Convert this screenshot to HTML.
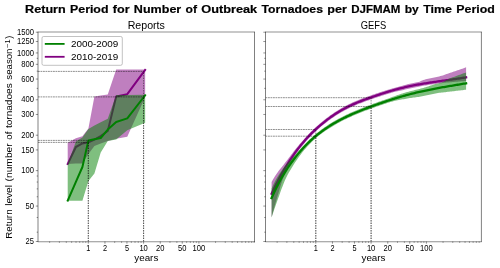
<!DOCTYPE html>
<html><head><meta charset="utf-8"><title>Return Period</title>
<style>html,body{margin:0;padding:0;background:#fff;}body{width:500px;height:268px;overflow:hidden;font-family:"Liberation Sans",sans-serif;}</style></head>
<body>
<svg width="500" height="268" viewBox="0 0 500 268" style="display:block;will-change:transform;font-family:'Liberation Sans',sans-serif">
<rect width="500" height="268" fill="#fff"/>
<defs><clipPath id="c1"><rect x="38.00" y="32.00" width="216.50" height="209.50"/></clipPath><clipPath id="c2"><rect x="265.50" y="32.00" width="215.90" height="209.50"/></clipPath></defs>
<g clip-path="url(#c1)">
<polygon points="67.70,142.80 75.89,138.30 82.41,136.20 88.42,128.50 94.41,96.60 100.72,95.50 107.77,94.50 116.18,69.40 127.27,69.40 145.15,69.40 145.15,97.00 127.27,136.70 116.18,138.70 107.77,141.00 100.72,143.50 94.41,146.00 88.42,154.00 82.41,163.40 75.89,163.40 67.70,164.00" fill="#800080" fill-opacity="0.5"/>
<polyline points="67.70,164.00 75.89,147.00 82.41,143.40 88.42,142.30 94.41,139.60 100.72,136.00 107.77,131.00 116.18,96.50 127.27,94.20 145.15,70.00" fill="none" stroke="#800080" stroke-width="2.00" stroke-linecap="square" stroke-linejoin="round"/>
<polygon points="67.70,164.00 75.89,141.50 82.41,137.50 88.42,129.00 94.41,125.60 100.72,122.30 107.77,118.70 116.18,95.00 127.27,95.00 145.15,94.80 145.15,122.80 127.27,130.30 116.18,139.50 107.77,141.00 100.72,152.50 94.41,173.60 88.42,181.00 82.41,200.80 75.89,200.80 67.70,200.80" fill="#008000" fill-opacity="0.5"/>
<polyline points="67.70,200.60 75.89,181.90 82.41,167.00 88.42,140.40 94.41,139.20 100.72,138.00 107.77,129.60 116.18,122.00 127.27,118.40 145.15,95.30" fill="none" stroke="#008000" stroke-width="2.00" stroke-linecap="square" stroke-linejoin="round"/>
<path d="M38.00 71.40H143.60" stroke="#000" stroke-width="0.44" stroke-dasharray="1.85 0.65" fill="none"/><path d="M143.60 241.50V71.40" stroke="#000" stroke-width="0.46" stroke-dasharray="1.4 1.1" fill="none"/>
<path d="M38.00 96.90H143.60" stroke="#000" stroke-width="0.44" stroke-dasharray="1.85 0.65" fill="none"/><path d="M143.60 241.50V96.90" stroke="#000" stroke-width="0.46" stroke-dasharray="1.4 1.1" fill="none"/>
<path d="M38.00 140.40H88.30" stroke="#000" stroke-width="0.44" stroke-dasharray="1.85 0.65" fill="none"/><path d="M88.30 241.50V140.40" stroke="#000" stroke-width="0.46" stroke-dasharray="1.4 1.1" fill="none"/>
<path d="M38.00 142.40H88.30" stroke="#000" stroke-width="0.44" stroke-dasharray="1.85 0.65" fill="none"/><path d="M88.30 241.50V142.40" stroke="#000" stroke-width="0.46" stroke-dasharray="1.4 1.1" fill="none"/>
</g>
<g clip-path="url(#c2)">
<polygon points="271.60,182.04 272.82,179.80 274.05,177.71 275.27,175.73 276.49,173.93 277.72,172.24 278.94,170.59 280.16,169.01 281.39,167.48 282.61,165.96 283.83,164.41 285.06,162.84 286.28,161.27 287.50,159.68 288.73,158.04 289.95,156.41 291.17,154.80 292.40,153.20 293.62,151.62 294.84,150.06 296.07,148.52 297.29,147.02 298.51,145.55 299.74,144.11 300.96,142.69 302.18,141.29 303.41,139.91 304.63,138.54 305.85,137.18 307.07,135.85 308.30,134.55 309.52,133.29 310.74,132.05 311.97,130.83 313.19,129.65 314.41,128.48 315.64,127.35 316.86,126.23 318.08,125.14 319.31,124.07 320.53,123.02 321.75,121.99 322.98,120.99 324.20,120.00 325.42,119.03 326.65,118.09 327.87,117.16 329.09,116.25 330.32,115.37 331.54,114.50 332.76,113.65 333.99,112.83 335.21,112.02 336.43,111.23 337.66,110.46 338.88,109.70 340.10,108.97 341.33,108.26 342.55,107.56 343.77,106.88 345.00,106.22 346.22,105.58 347.44,104.95 348.67,104.35 349.89,103.76 351.11,103.18 352.34,102.62 353.56,102.07 354.78,101.54 356.01,101.02 357.23,100.51 358.45,100.01 359.68,99.52 360.90,99.04 362.12,98.58 363.35,98.11 364.57,97.66 365.79,97.21 367.02,96.77 368.24,96.33 369.46,95.90 370.68,95.46 371.91,95.04 373.13,94.61 374.35,94.19 375.58,93.77 376.80,93.35 378.02,92.94 379.25,92.53 380.47,92.12 381.69,91.72 382.92,91.32 384.14,90.93 385.36,90.54 386.59,90.16 387.81,89.78 389.03,89.41 390.26,89.04 391.48,88.68 392.70,88.33 393.93,87.98 395.15,87.64 396.37,87.30 397.60,86.97 398.82,86.64 400.04,86.32 401.27,86.00 402.49,85.69 403.71,85.37 404.94,85.03 406.16,84.70 407.38,84.37 408.61,84.05 409.83,83.76 411.05,83.49 412.28,83.23 413.50,82.98 414.72,82.74 415.95,82.49 417.17,82.25 418.39,82.00 419.62,81.64 420.84,81.12 422.06,80.56 423.29,80.06 424.51,79.64 425.73,79.24 426.96,78.94 428.18,78.69 429.40,78.46 430.63,78.24 431.85,78.02 433.07,77.80 434.29,77.57 435.52,77.32 436.74,77.05 437.96,76.75 439.19,76.43 440.41,76.10 441.63,75.75 442.86,75.39 444.08,74.99 445.30,74.56 446.53,74.12 447.75,73.68 448.97,73.26 450.20,72.85 451.42,72.43 452.64,72.02 453.87,71.60 455.09,71.18 456.31,70.76 457.54,70.34 458.76,69.92 459.98,69.50 461.21,69.08 462.43,68.65 463.65,68.23 464.88,67.80 466.10,67.37 466.10,80.97 464.88,81.06 463.65,81.16 462.43,81.25 461.21,81.35 459.98,81.45 458.76,81.54 457.54,81.64 456.31,81.74 455.09,81.84 453.87,81.95 452.64,82.05 451.42,82.16 450.20,82.27 448.97,82.38 447.75,82.50 446.53,82.62 445.30,82.74 444.08,82.87 442.86,83.00 441.63,83.13 440.41,83.27 439.19,83.42 437.96,83.57 436.74,83.73 435.52,83.89 434.29,84.06 433.07,84.23 431.85,84.41 430.63,84.60 429.40,84.79 428.18,84.98 426.96,85.18 425.73,85.39 424.51,85.60 423.29,85.81 422.06,86.03 420.84,86.25 419.62,86.48 418.39,86.70 417.17,86.94 415.95,87.18 414.72,87.43 413.50,87.68 412.28,87.94 411.05,88.21 409.83,88.48 408.61,88.76 407.38,89.04 406.16,89.32 404.94,89.61 403.71,89.90 402.49,90.20 401.27,90.48 400.04,90.73 398.82,90.96 397.60,91.19 396.37,91.44 395.15,91.74 393.93,92.08 392.70,92.43 391.48,92.78 390.26,93.14 389.03,93.51 387.81,93.88 386.59,94.26 385.36,94.64 384.14,95.03 382.92,95.42 381.69,95.82 380.47,96.22 379.25,96.63 378.02,97.04 376.80,97.45 375.58,97.87 374.35,98.29 373.13,98.71 371.91,99.14 370.68,99.56 369.46,100.00 368.24,100.43 367.02,100.87 365.79,101.31 364.57,101.76 363.35,102.21 362.12,102.68 360.90,103.14 359.68,103.62 358.45,104.11 357.23,104.61 356.01,105.12 354.78,105.64 353.56,106.17 352.34,106.72 351.11,107.28 349.89,107.86 348.67,108.45 347.44,109.05 346.22,109.68 345.00,110.32 343.77,110.98 342.55,111.66 341.33,112.36 340.10,113.07 338.88,113.80 337.66,114.56 336.43,115.33 335.21,116.12 333.99,116.93 332.76,117.75 331.54,118.60 330.32,119.47 329.09,120.35 327.87,121.26 326.65,122.19 325.42,123.13 324.20,124.10 322.98,125.09 321.75,126.09 320.53,127.12 319.31,128.17 318.08,129.25 316.86,130.35 315.64,131.47 314.41,132.63 313.19,133.81 311.97,135.02 310.74,136.26 309.52,137.54 308.30,138.84 307.07,140.18 305.85,141.55 304.63,142.96 303.41,144.40 302.18,145.88 300.96,147.40 299.74,148.95 298.51,150.55 297.29,152.18 296.07,153.86 294.84,155.58 293.62,157.39 292.40,159.30 291.17,161.31 289.95,163.43 288.73,165.65 287.50,167.97 286.28,170.38 285.06,173.03 283.83,176.13 282.61,179.53 281.39,183.13 280.16,187.16 278.94,191.39 277.72,195.54 276.49,199.67 275.27,203.86 274.05,208.19 272.82,212.66 271.60,217.24" fill="#800080" fill-opacity="0.5"/>
<polyline points="271.60,193.64 272.82,191.04 274.05,188.50 275.27,186.01 276.49,183.58 277.72,181.20 278.94,178.87 280.16,176.60 281.39,174.37 282.61,172.20 283.83,170.08 285.06,168.01 286.28,165.98 287.50,164.01 288.73,162.07 289.95,160.19 291.17,158.35 292.40,156.55 293.62,154.79 294.84,153.08 296.07,151.40 297.29,149.77 298.51,148.17 299.74,146.61 300.96,145.09 302.18,143.61 303.41,142.16 304.63,140.75 305.85,139.36 307.07,138.02 308.30,136.70 309.52,135.41 310.74,134.16 311.97,132.93 313.19,131.73 314.41,130.56 315.64,129.41 316.86,128.29 318.08,127.19 319.31,126.12 320.53,125.07 321.75,124.04 322.98,123.04 324.20,122.05 325.42,121.08 326.65,120.14 327.87,119.21 329.09,118.30 330.32,117.42 331.54,116.55 332.76,115.70 333.99,114.88 335.21,114.07 336.43,113.28 337.66,112.51 338.88,111.75 340.10,111.02 341.33,110.31 342.55,109.61 343.77,108.93 345.00,108.27 346.22,107.63 347.44,107.00 348.67,106.40 349.89,105.81 351.11,105.23 352.34,104.67 353.56,104.12 354.78,103.59 356.01,103.07 357.23,102.56 358.45,102.06 359.68,101.57 360.90,101.09 362.12,100.63 363.35,100.16 364.57,99.71 365.79,99.26 367.02,98.82 368.24,98.38 369.46,97.95 370.68,97.51 371.91,97.09 373.13,96.66 374.35,96.24 375.58,95.82 376.80,95.40 378.02,94.99 379.25,94.58 380.47,94.17 381.69,93.77 382.92,93.37 384.14,92.98 385.36,92.59 386.59,92.21 387.81,91.83 389.03,91.46 390.26,91.09 391.48,90.73 392.70,90.38 393.93,90.03 395.15,89.69 396.37,89.36 397.60,89.03 398.82,88.71 400.04,88.40 401.27,88.10 402.49,87.80 403.71,87.51 404.94,87.23 406.16,86.95 407.38,86.68 408.61,86.42 409.83,86.16 411.05,85.91 412.28,85.66 413.50,85.42 414.72,85.18 415.95,84.95 417.17,84.73 418.39,84.50 419.62,84.29 420.84,84.07 422.06,83.86 423.29,83.66 424.51,83.46 425.73,83.26 426.96,83.06 428.18,82.87 429.40,82.68 430.63,82.49 431.85,82.31 433.07,82.13 434.29,81.95 435.52,81.77 436.74,81.59 437.96,81.42 439.19,81.24 440.41,81.07 441.63,80.90 442.86,80.73 444.08,80.56 445.30,80.39 446.53,80.22 447.75,80.05 448.97,79.88 450.20,79.71 451.42,79.54 452.64,79.37 453.87,79.19 455.09,79.02 456.31,78.84 457.54,78.67 458.76,78.49 459.98,78.31 461.21,78.12 462.43,77.94 463.65,77.75 464.88,77.56 466.10,77.37" fill="none" stroke="#800080" stroke-width="2.30" stroke-linecap="square" stroke-linejoin="round"/>
<polygon points="271.60,188.55 272.82,185.83 274.05,183.24 275.27,180.78 276.49,178.57 277.72,176.54 278.94,174.56 280.16,172.68 281.39,170.88 282.61,169.17 283.83,167.54 285.06,165.97 286.28,164.49 287.50,163.07 288.73,161.70 289.95,160.42 291.17,159.15 292.40,157.81 293.62,156.47 294.84,155.13 296.07,153.78 297.29,152.40 298.51,151.03 299.74,149.69 300.96,148.37 302.18,147.07 303.41,145.78 304.63,144.50 305.85,143.23 307.07,141.99 308.30,140.78 309.52,139.60 310.74,138.45 311.97,137.32 313.19,136.23 314.41,135.16 315.64,134.13 316.86,133.12 318.08,132.13 319.31,131.17 320.53,130.24 321.75,129.33 322.98,128.44 324.20,127.58 325.42,126.73 326.65,125.90 327.87,125.10 329.09,124.31 330.32,123.53 331.54,122.78 332.76,122.04 333.99,121.31 335.21,120.60 336.43,119.90 337.66,119.22 338.88,118.55 340.10,117.90 341.33,117.26 342.55,116.63 343.77,116.01 345.00,115.40 346.22,114.81 347.44,114.23 348.67,113.65 349.89,113.09 351.11,112.54 352.34,111.99 353.56,111.46 354.78,110.93 356.01,110.41 357.23,109.90 358.45,109.40 359.68,108.91 360.90,108.42 362.12,107.93 363.35,107.46 364.57,106.98 365.79,106.52 367.02,106.05 368.24,105.60 369.46,105.14 370.68,104.69 371.91,104.24 373.13,103.80 374.35,103.36 375.58,102.92 376.80,102.48 378.02,102.05 379.25,101.62 380.47,101.20 381.69,100.78 382.92,100.36 384.14,99.94 385.36,99.53 386.59,99.11 387.81,98.67 389.03,98.23 390.26,97.78 391.48,97.32 392.70,96.87 393.93,96.42 395.15,95.98 396.37,95.54 397.60,95.11 398.82,94.66 400.04,94.22 401.27,93.80 402.49,93.39 403.71,93.01 404.94,92.67 406.16,92.33 407.38,92.00 408.61,91.67 409.83,91.35 411.05,91.04 412.28,90.72 413.50,90.42 414.72,90.11 415.95,89.80 417.17,89.49 418.39,89.19 419.62,88.89 420.84,88.58 422.06,88.26 423.29,87.91 424.51,87.54 425.73,87.16 426.96,86.77 428.18,86.39 429.40,86.00 430.63,85.59 431.85,85.17 433.07,84.75 434.29,84.36 435.52,84.02 436.74,83.71 437.96,83.42 439.19,83.13 440.41,82.83 441.63,82.50 442.86,82.08 444.08,81.49 445.30,80.79 446.53,80.06 447.75,79.39 448.97,78.83 450.20,78.32 451.42,77.83 452.64,77.36 453.87,76.91 455.09,76.46 456.31,76.01 457.54,75.56 458.76,75.11 459.98,74.67 461.21,74.23 462.43,73.80 463.65,73.37 464.88,72.95 466.10,72.53 466.10,89.73 464.88,89.87 463.65,90.01 462.43,90.15 461.21,90.29 459.98,90.42 458.76,90.56 457.54,90.70 456.31,90.84 455.09,90.99 453.87,91.13 452.64,91.27 451.42,91.42 450.20,91.56 448.97,91.71 447.75,91.86 446.53,92.00 445.30,92.13 444.08,92.27 442.86,92.40 441.63,92.55 440.41,92.70 439.19,92.87 437.96,93.05 436.74,93.25 435.52,93.48 434.29,93.73 433.07,93.98 431.85,94.25 430.63,94.51 429.40,94.77 428.18,95.02 426.96,95.27 425.73,95.51 424.51,95.76 423.29,96.00 422.06,96.25 420.84,96.49 419.62,96.73 418.39,96.92 417.17,97.09 415.95,97.23 414.72,97.38 413.50,97.54 412.28,97.71 411.05,97.91 409.83,98.10 408.61,98.31 407.38,98.52 406.16,98.73 404.94,98.95 403.71,99.16 402.49,99.36 401.27,99.56 400.04,99.76 398.82,99.97 397.60,100.21 396.37,100.48 395.15,100.79 393.93,101.11 392.70,101.44 391.48,101.78 390.26,102.12 389.03,102.48 387.81,102.85 386.59,103.24 385.36,103.63 384.14,104.04 382.92,104.46 381.69,104.88 380.47,105.30 379.25,105.72 378.02,106.15 376.80,106.58 375.58,107.02 374.35,107.46 373.13,107.90 371.91,108.34 370.68,108.79 369.46,109.24 368.24,109.70 367.02,110.15 365.79,110.62 364.57,111.08 363.35,111.56 362.12,112.03 360.90,112.52 359.68,113.01 358.45,113.50 357.23,114.00 356.01,114.51 354.78,115.03 353.56,115.56 352.34,116.09 351.11,116.64 349.89,117.19 348.67,117.75 347.44,118.33 346.22,118.91 345.00,119.50 343.77,120.11 342.55,120.73 341.33,121.36 340.10,122.00 338.88,122.65 337.66,123.32 336.43,124.00 335.21,124.70 333.99,125.41 332.76,126.14 331.54,126.88 330.32,127.63 329.09,128.41 327.87,129.20 326.65,130.00 325.42,130.83 324.20,131.68 322.98,132.54 321.75,133.43 320.53,134.34 319.31,135.27 318.08,136.25 316.86,137.27 315.64,138.32 314.41,139.42 313.19,140.55 311.97,141.72 310.74,142.94 309.52,144.18 308.30,145.47 307.07,146.79 305.85,148.15 304.63,149.54 303.41,151.01 302.18,152.54 300.96,154.14 299.74,155.80 298.51,157.51 297.29,159.27 296.07,161.05 294.84,162.87 293.62,164.74 292.40,166.65 291.17,168.63 289.95,170.69 288.73,172.84 287.50,175.10 286.28,177.47 285.06,180.07 283.83,183.01 282.61,186.14 281.39,189.34 280.16,192.73 278.94,196.20 277.72,199.61 276.49,203.00 275.27,206.44 274.05,210.00 272.82,213.67 271.60,217.45" fill="#008000" fill-opacity="0.5"/>
<polyline points="271.60,198.05 272.82,195.30 274.05,192.63 275.27,190.04 276.49,187.54 277.72,185.12 278.94,182.77 280.16,180.50 281.39,178.30 282.61,176.17 283.83,174.10 285.06,172.09 286.28,170.14 287.50,168.25 288.73,166.42 289.95,164.64 291.17,162.90 292.40,161.21 293.62,159.57 294.84,157.96 296.07,156.40 297.29,154.87 298.51,153.39 299.74,151.94 300.96,150.53 302.18,149.15 303.41,147.81 304.63,146.50 305.85,145.23 307.07,143.99 308.30,142.78 309.52,141.61 310.74,140.46 311.97,139.35 313.19,138.26 314.41,137.20 315.64,136.17 316.86,135.16 318.08,134.18 319.31,133.22 320.53,132.29 321.75,131.38 322.98,130.49 324.20,129.63 325.42,128.78 326.65,127.95 327.87,127.15 329.09,126.36 330.32,125.58 331.54,124.83 332.76,124.09 333.99,123.36 335.21,122.65 336.43,121.95 337.66,121.27 338.88,120.60 340.10,119.95 341.33,119.31 342.55,118.68 343.77,118.06 345.00,117.45 346.22,116.86 347.44,116.28 348.67,115.70 349.89,115.14 351.11,114.59 352.34,114.04 353.56,113.51 354.78,112.98 356.01,112.46 357.23,111.95 358.45,111.45 359.68,110.96 360.90,110.47 362.12,109.98 363.35,109.51 364.57,109.03 365.79,108.57 367.02,108.10 368.24,107.65 369.46,107.19 370.68,106.74 371.91,106.29 373.13,105.85 374.35,105.41 375.58,104.97 376.80,104.53 378.02,104.10 379.25,103.67 380.47,103.25 381.69,102.83 382.92,102.41 384.14,101.99 385.36,101.58 386.59,101.18 387.81,100.77 389.03,100.37 390.26,99.98 391.48,99.59 392.70,99.20 393.93,98.82 395.15,98.44 396.37,98.06 397.60,97.69 398.82,97.33 400.04,96.97 401.27,96.61 402.49,96.26 403.71,95.91 404.94,95.57 406.16,95.23 407.38,94.90 408.61,94.57 409.83,94.25 411.05,93.94 412.28,93.62 413.50,93.32 414.72,93.02 415.95,92.72 417.17,92.43 418.39,92.15 419.62,91.87 420.84,91.59 422.06,91.32 423.29,91.05 424.51,90.79 425.73,90.53 426.96,90.27 428.18,90.02 429.40,89.77 430.63,89.53 431.85,89.29 433.07,89.05 434.29,88.81 435.52,88.58 436.74,88.35 437.96,88.12 439.19,87.90 440.41,87.68 441.63,87.46 442.86,87.24 444.08,87.02 445.30,86.81 446.53,86.60 447.75,86.39 448.97,86.18 450.20,85.97 451.42,85.77 452.64,85.56 453.87,85.36 455.09,85.15 456.31,84.95 457.54,84.75 458.76,84.54 459.98,84.34 461.21,84.14 462.43,83.94 463.65,83.73 464.88,83.53 466.10,83.33" fill="none" stroke="#008000" stroke-width="2.30" stroke-linecap="square" stroke-linejoin="round"/>
<path d="M265.50 97.70H371.10" stroke="#000" stroke-width="0.44" stroke-dasharray="1.85 0.65" fill="none"/><path d="M371.10 241.50V97.70" stroke="#000" stroke-width="0.46" stroke-dasharray="1.4 1.1" fill="none"/>
<path d="M265.50 106.50H371.10" stroke="#000" stroke-width="0.44" stroke-dasharray="1.85 0.65" fill="none"/><path d="M371.10 241.50V106.50" stroke="#000" stroke-width="0.46" stroke-dasharray="1.4 1.1" fill="none"/>
<path d="M265.50 129.50H315.80" stroke="#000" stroke-width="0.44" stroke-dasharray="1.85 0.65" fill="none"/><path d="M315.80 241.50V129.50" stroke="#000" stroke-width="0.46" stroke-dasharray="1.4 1.1" fill="none"/>
<path d="M265.50 136.20H315.80" stroke="#000" stroke-width="0.44" stroke-dasharray="1.85 0.65" fill="none"/><path d="M315.80 241.50V136.20" stroke="#000" stroke-width="0.46" stroke-dasharray="1.4 1.1" fill="none"/>
</g>
<path d="M38.00 31.80V241.90M254.50 31.80V241.90" stroke="#000" stroke-width="0.5" fill="none"/>
<path d="M37.75 32.00H254.75M37.75 241.75H254.75" stroke="#000" stroke-width="0.44" fill="none"/>
<path d="M38.00 241.50h-2.2M38.00 206.07h-2.2M38.00 170.64h-2.2M38.00 149.91h-2.2M38.00 135.21h-2.2M38.00 114.48h-2.2M38.00 99.78h-2.2M38.00 79.05h-2.2M38.00 64.34h-2.2M38.00 52.94h-2.2M38.00 41.53h-2.2M38.00 32.21h-2.2M38.00 232.18h-1.3M38.00 217.48h-1.3M38.00 196.75h-1.3M38.00 188.87h-1.3M38.00 182.04h-1.3M38.00 176.02h-1.3M38.00 88.37h-1.3M38.00 71.17h-1.3M38.00 58.32h-1.3M88.30 241.50v2.2M104.95 241.50v2.2M126.95 241.50v2.2M143.60 241.50v2.2M160.25 241.50v2.2M182.25 241.50v2.2M198.90 241.50v2.2M49.65 241.50v1.3M59.38 241.50v1.3M66.29 241.50v1.3M71.65 241.50v1.3M76.03 241.50v1.3M79.73 241.50v1.3M82.94 241.50v1.3M85.77 241.50v1.3M114.68 241.50v1.3M121.59 241.50v1.3M131.33 241.50v1.3M135.03 241.50v1.3M138.24 241.50v1.3M141.07 241.50v1.3M169.98 241.50v1.3M176.89 241.50v1.3M186.63 241.50v1.3M190.33 241.50v1.3M193.54 241.50v1.3M196.37 241.50v1.3M215.55 241.50v1.3M225.28 241.50v1.3M232.19 241.50v1.3M237.55 241.50v1.3M241.93 241.50v1.3M245.63 241.50v1.3M248.84 241.50v1.3M251.67 241.50v1.3M254.20 241.50v1.3" stroke="#000" stroke-width="0.42" fill="none"/>
<path d="M265.50 31.80V241.90M481.40 31.80V241.90" stroke="#000" stroke-width="0.5" fill="none"/>
<path d="M265.25 32.00H481.65M265.25 241.75H481.65" stroke="#000" stroke-width="0.44" fill="none"/>
<path d="M265.50 241.50h-2.2M265.50 206.07h-2.2M265.50 170.64h-2.2M265.50 149.91h-2.2M265.50 135.21h-2.2M265.50 114.48h-2.2M265.50 99.78h-2.2M265.50 79.05h-2.2M265.50 64.34h-2.2M265.50 52.94h-2.2M265.50 41.53h-2.2M265.50 32.21h-2.2M265.50 232.18h-1.3M265.50 217.48h-1.3M265.50 196.75h-1.3M265.50 188.87h-1.3M265.50 182.04h-1.3M265.50 176.02h-1.3M265.50 88.37h-1.3M265.50 71.17h-1.3M265.50 58.32h-1.3M315.80 241.50v2.2M332.45 241.50v2.2M354.45 241.50v2.2M371.10 241.50v2.2M387.75 241.50v2.2M409.75 241.50v2.2M426.40 241.50v2.2M277.15 241.50v1.3M286.88 241.50v1.3M293.79 241.50v1.3M299.15 241.50v1.3M303.53 241.50v1.3M307.23 241.50v1.3M310.44 241.50v1.3M313.27 241.50v1.3M342.18 241.50v1.3M349.09 241.50v1.3M358.83 241.50v1.3M362.53 241.50v1.3M365.74 241.50v1.3M368.57 241.50v1.3M397.48 241.50v1.3M404.39 241.50v1.3M414.13 241.50v1.3M417.83 241.50v1.3M421.04 241.50v1.3M423.87 241.50v1.3M443.05 241.50v1.3M452.78 241.50v1.3M459.69 241.50v1.3M465.05 241.50v1.3M469.43 241.50v1.3M473.13 241.50v1.3M476.34 241.50v1.3M479.17 241.50v1.3" stroke="#000" stroke-width="0.42" fill="none"/>
<g opacity="0.999">
<text y="13.1" font-size="11.2" font-weight="bold" fill="#000" stroke="#000" stroke-width="0.2"><tspan x="25.10" textLength="40.58" lengthAdjust="spacingAndGlyphs">Return</tspan> <tspan x="70.01" textLength="38.50" lengthAdjust="spacingAndGlyphs">Period</tspan> <tspan x="112.84" textLength="16.71" lengthAdjust="spacingAndGlyphs">for</tspan> <tspan x="133.88" textLength="47.38" lengthAdjust="spacingAndGlyphs">Number</tspan> <tspan x="185.58" textLength="11.42" lengthAdjust="spacingAndGlyphs">of</tspan> <tspan x="201.33" textLength="55.83" lengthAdjust="spacingAndGlyphs">Outbreak</tspan> <tspan x="261.49" textLength="61.46" lengthAdjust="spacingAndGlyphs">Tornadoes</tspan> <tspan x="327.28" textLength="19.62" lengthAdjust="spacingAndGlyphs">per</tspan> <tspan x="351.23" textLength="49.21" lengthAdjust="spacingAndGlyphs">DJFMAM</tspan> <tspan x="404.77" textLength="14.05" lengthAdjust="spacingAndGlyphs">by</tspan> <tspan x="423.16" textLength="28.81" lengthAdjust="spacingAndGlyphs">Time</tspan> <tspan x="456.30" textLength="38.50" lengthAdjust="spacingAndGlyphs">Period</tspan></text>
<text x="146.30" y="29.20" font-size="10.30" text-anchor="middle" textLength="37.20" lengthAdjust="spacingAndGlyphs" fill="#000" >Reports</text>
<text x="373.50" y="29.20" font-size="10.30" text-anchor="middle" textLength="25.50" lengthAdjust="spacingAndGlyphs" fill="#000" >GEFS</text>
<text x="146.30" y="260.60" font-size="9.30" text-anchor="middle" textLength="24.00" lengthAdjust="spacingAndGlyphs" fill="#000" >years</text>
<text x="373.50" y="260.60" font-size="9.30" text-anchor="middle" textLength="24.00" lengthAdjust="spacingAndGlyphs" fill="#000" >years</text>
<text x="88.30" y="251.00" font-size="8.20" text-anchor="middle" textLength="4.10" lengthAdjust="spacingAndGlyphs" fill="#000" >1</text>
<text x="104.95" y="251.00" font-size="8.20" text-anchor="middle" textLength="4.10" lengthAdjust="spacingAndGlyphs" fill="#000" >2</text>
<text x="126.95" y="251.00" font-size="8.20" text-anchor="middle" textLength="4.10" lengthAdjust="spacingAndGlyphs" fill="#000" >5</text>
<text x="143.60" y="251.00" font-size="8.20" text-anchor="middle" textLength="8.40" lengthAdjust="spacingAndGlyphs" fill="#000" >10</text>
<text x="160.25" y="251.00" font-size="8.20" text-anchor="middle" textLength="8.40" lengthAdjust="spacingAndGlyphs" fill="#000" >20</text>
<text x="182.25" y="251.00" font-size="8.20" text-anchor="middle" textLength="8.40" lengthAdjust="spacingAndGlyphs" fill="#000" >50</text>
<text x="198.90" y="251.00" font-size="8.20" text-anchor="middle" textLength="12.70" lengthAdjust="spacingAndGlyphs" fill="#000" >100</text>
<text x="315.80" y="251.00" font-size="8.20" text-anchor="middle" textLength="4.10" lengthAdjust="spacingAndGlyphs" fill="#000" >1</text>
<text x="332.45" y="251.00" font-size="8.20" text-anchor="middle" textLength="4.10" lengthAdjust="spacingAndGlyphs" fill="#000" >2</text>
<text x="354.45" y="251.00" font-size="8.20" text-anchor="middle" textLength="4.10" lengthAdjust="spacingAndGlyphs" fill="#000" >5</text>
<text x="371.10" y="251.00" font-size="8.20" text-anchor="middle" textLength="8.40" lengthAdjust="spacingAndGlyphs" fill="#000" >10</text>
<text x="387.75" y="251.00" font-size="8.20" text-anchor="middle" textLength="8.40" lengthAdjust="spacingAndGlyphs" fill="#000" >20</text>
<text x="409.75" y="251.00" font-size="8.20" text-anchor="middle" textLength="8.40" lengthAdjust="spacingAndGlyphs" fill="#000" >50</text>
<text x="426.40" y="251.00" font-size="8.20" text-anchor="middle" textLength="12.70" lengthAdjust="spacingAndGlyphs" fill="#000" >100</text>
<text x="33.90" y="244.20" font-size="8.20" text-anchor="end" textLength="8.40" lengthAdjust="spacingAndGlyphs" fill="#000" >25</text>
<text x="33.90" y="208.77" font-size="8.20" text-anchor="end" textLength="8.40" lengthAdjust="spacingAndGlyphs" fill="#000" >50</text>
<text x="33.90" y="173.34" font-size="8.20" text-anchor="end" textLength="12.70" lengthAdjust="spacingAndGlyphs" fill="#000" >100</text>
<text x="33.90" y="152.61" font-size="8.20" text-anchor="end" textLength="12.70" lengthAdjust="spacingAndGlyphs" fill="#000" >150</text>
<text x="33.90" y="137.91" font-size="8.20" text-anchor="end" textLength="12.70" lengthAdjust="spacingAndGlyphs" fill="#000" >200</text>
<text x="33.90" y="117.18" font-size="8.20" text-anchor="end" textLength="12.70" lengthAdjust="spacingAndGlyphs" fill="#000" >300</text>
<text x="33.90" y="102.48" font-size="8.20" text-anchor="end" textLength="12.70" lengthAdjust="spacingAndGlyphs" fill="#000" >400</text>
<text x="33.90" y="81.75" font-size="8.20" text-anchor="end" textLength="12.70" lengthAdjust="spacingAndGlyphs" fill="#000" >600</text>
<text x="33.90" y="67.04" font-size="8.20" text-anchor="end" textLength="12.70" lengthAdjust="spacingAndGlyphs" fill="#000" >800</text>
<text x="33.90" y="55.64" font-size="8.20" text-anchor="end" textLength="17.00" lengthAdjust="spacingAndGlyphs" fill="#000" >1000</text>
<text x="33.90" y="44.23" font-size="8.20" text-anchor="end" textLength="17.00" lengthAdjust="spacingAndGlyphs" fill="#000" >1250</text>
<text x="33.90" y="34.91" font-size="8.20" text-anchor="end" textLength="17.00" lengthAdjust="spacingAndGlyphs" fill="#000" >1500</text>
<text transform="translate(12.0 238.3) rotate(-90)" font-size="9.3" fill="#000"><tspan x="-0.49" textLength="29.35" lengthAdjust="spacingAndGlyphs">Return</tspan> <tspan x="32.44" textLength="20.83" lengthAdjust="spacingAndGlyphs">level</tspan> <tspan x="56.85" textLength="38.18" lengthAdjust="spacingAndGlyphs">(number</tspan> <tspan x="98.61" textLength="8.03" lengthAdjust="spacingAndGlyphs">of</tspan> <tspan x="110.21" textLength="44.82" lengthAdjust="spacingAndGlyphs">tornadoes</tspan> <tspan x="158.61" textLength="31.14" lengthAdjust="spacingAndGlyphs">season</tspan><tspan x="190.6" dy="-2.4" font-size="6.4" textLength="8.4" lengthAdjust="spacingAndGlyphs">−1</tspan><tspan x="199.6" dy="2.4" textLength="3.0" lengthAdjust="spacingAndGlyphs">)</tspan></text>
<rect x="42" y="36.5" width="80.3" height="28.8" rx="1.6" fill="#fff" fill-opacity="0.8" stroke="#999" stroke-width="0.6"/>
<path d="M44.8 43.9H64.6" stroke="#008000" stroke-width="1.8"/>
<path d="M44.8 56.8H64.6" stroke="#800080" stroke-width="1.8"/>
<text x="71.00" y="47.20" font-size="9.40" text-anchor="start" textLength="47.30" lengthAdjust="spacingAndGlyphs" fill="#000" >2000-2009</text>
<text x="71.00" y="60.20" font-size="9.40" text-anchor="start" textLength="47.30" lengthAdjust="spacingAndGlyphs" fill="#000" >2010-2019</text>
</g>
</svg>
</body></html>
